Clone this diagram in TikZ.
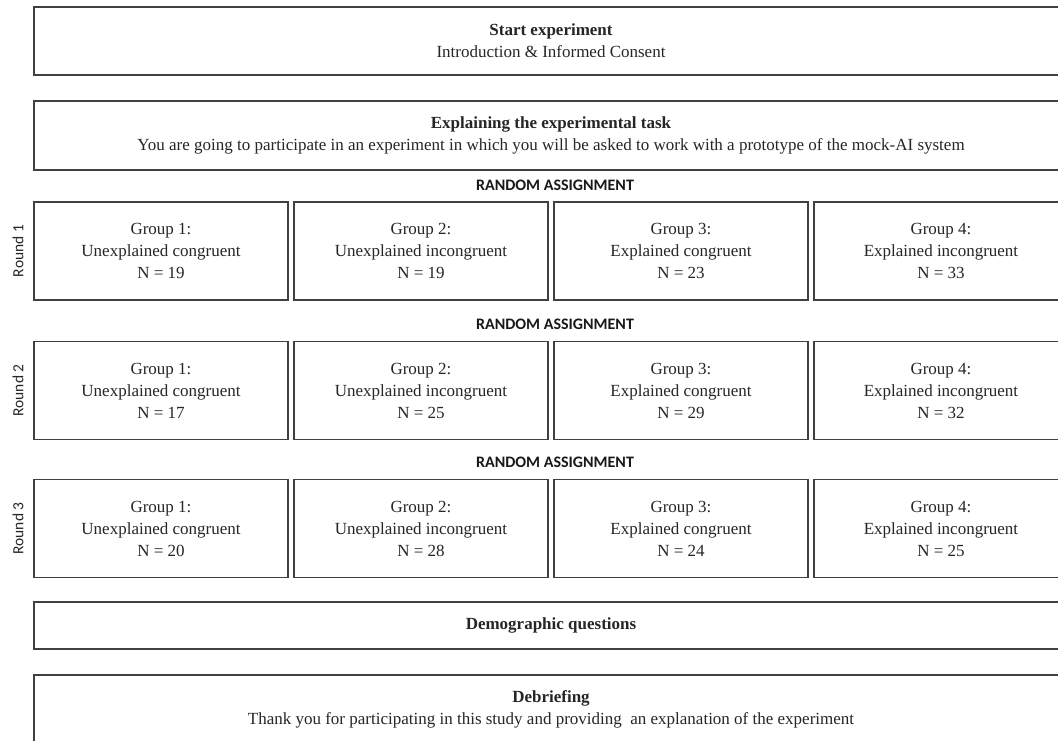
\documentclass[tikz,border=0pt]{standalone}
\usepackage{fontspec}
\setmainfont{Liberation Serif}
\newfontfamily\calibri{Carlito}
\begin{document}
\begin{tikzpicture}[x=1pt,y=-1pt,
  box/.style={draw=black!75, line width=1.4pt, rectangle, inner sep=0pt, align=center,
              text=black!85, font=\fontsize{17}{22}\selectfont},
  wide/.style={box, minimum width=1034},
  grp/.style={box, minimum width=254, minimum height=98},
  ra/.style={text=black!90, font=\calibri\bfseries\fontsize{16}{18}\selectfont},
  rnd/.style={text=black!85, font=\calibri\fontsize{15.5}{18}\selectfont, rotate=90}]
\useasboundingbox (0,0) rectangle (1058,741);
\clip (0,0) rectangle (1058,741);
\fill[white] (0,0) rectangle (1058,741);

\node[wide, minimum height=68] (start) at (551,41)
  {\textbf{Start experiment}\\Introduction \& Informed Consent};
\node[wide, minimum height=69] (explain) at (551,135.5)
  {\textbf{Explaining the experimental task}\\You are going to participate in an experiment in which you will be asked to work with a prototype of the mock-AI system};

\node[ra] (ra1) at (555,185) {RANDOM ASSIGNMENT};
\node[rnd] (r1) at (18,251) {Round 1};
\node[grp] (g11) at (161,251) {Group 1:\\Unexplained congruent\\N = 19};
\node[grp] (g12) at (421,251) {Group 2:\\Unexplained incongruent\\N = 19};
\node[grp] (g13) at (681,251) {Group 3:\\Explained congruent\\N = 23};
\node[grp] (g14) at (941,251) {Group 4:\\Explained incongruent\\N = 33};

\node[ra] (ra2) at (555,324) {RANDOM ASSIGNMENT};
\node[rnd] (r2) at (18,390.5) {Round 2};
\node[grp] (g21) at (161,390.5) {Group 1:\\Unexplained congruent\\N = 17};
\node[grp] (g22) at (421,390.5) {Group 2:\\Unexplained incongruent\\N = 25};
\node[grp] (g23) at (681,390.5) {Group 3:\\Explained congruent\\N = 29};
\node[grp] (g24) at (941,390.5) {Group 4:\\Explained incongruent\\N = 32};

\node[ra] (ra3) at (555,462) {RANDOM ASSIGNMENT};
\node[rnd] (r3) at (18,528.5) {Round 3};
\node[grp] (g31) at (161,528.5) {Group 1:\\Unexplained congruent\\N = 20};
\node[grp] (g32) at (421,528.5) {Group 2:\\Unexplained incongruent\\N = 28};
\node[grp] (g33) at (681,528.5) {Group 3:\\Explained congruent\\N = 24};
\node[grp] (g34) at (941,528.5) {Group 4:\\Explained incongruent\\N = 25};

\node[wide, minimum height=47] (demo) at (551,625.5) {\textbf{Demographic questions}};
\node[wide, minimum height=69] (debrief) at (551,709.5)
  {\textbf{Debriefing}\\Thank you for participating in this study and providing\ \ an explanation of the experiment};
\end{tikzpicture}
\end{document}
